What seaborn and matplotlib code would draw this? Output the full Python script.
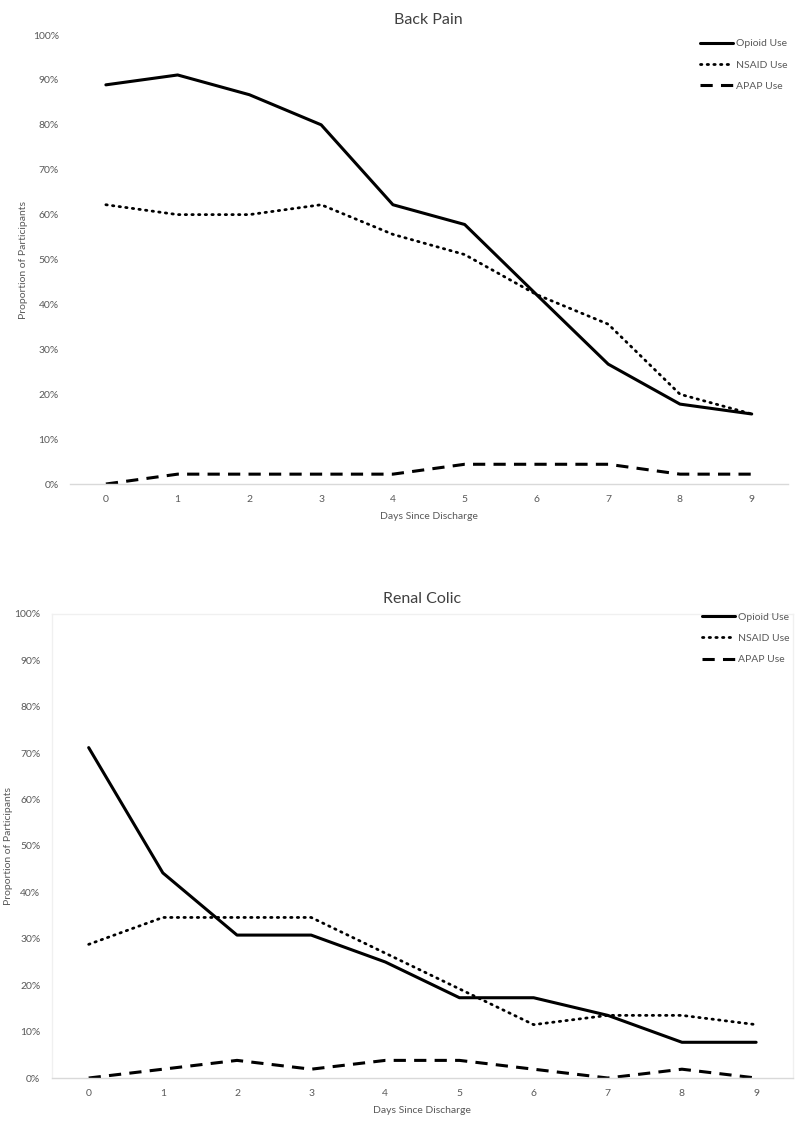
"""Medication use by days since discharge, back pain vs renal colic."""

import matplotlib
matplotlib.use("Agg")
import matplotlib.pyplot as plt
import pandas as pd
import seaborn as sns
from matplotlib.ticker import PercentFormatter

DAYS = [0, 1, 2, 3, 4, 5, 6, 7, 8, 9]

# Back pain (proportions, %)
BACK_OPIOID = [88.9, 91.1, 86.7, 80.0, 62.2, 57.8, 42.2, 26.7, 17.8, 15.6]
BACK_NSAID = [62.2, 60.0, 60.0, 62.2, 55.6, 51.1, 42.2, 35.6, 20.0, 15.6]
BACK_APAP = [0.0, 2.2, 2.2, 2.2, 2.2, 4.4, 4.4, 4.4, 2.2, 2.2]

# Renal colic (proportions, %)
RENAL_OPIOID = [71.2, 44.2, 30.8, 30.8, 25.0, 17.3, 17.3, 13.5, 7.7, 7.7]
RENAL_NSAID = [28.8, 34.6, 34.6, 34.6, 26.9, 19.2, 11.5, 13.5, 13.5, 11.5]
RENAL_APAP = [0.0, 1.9, 3.8, 1.9, 3.8, 3.8, 1.9, 0.0, 1.9, 0.0]

SERIES = ["Opioid Use", "NSAID Use", "APAP Use"]
TEXT_GREY = "#595959"
AXIS_GREY = "#d9d9d9"

sns.set_theme(style="white")
plt.rcParams["font.family"] = ["Lato", "DejaVu Sans"]


def draw_panel(ax, title, opioid, nsaid, apap, boxed, ylabel_x, legend_anchor):
    df = pd.DataFrame({"day": DAYS, SERIES[0]: opioid, SERIES[1]: nsaid, SERIES[2]: apap})
    sns.lineplot(data=df, x="day", y=SERIES[0], ax=ax, color="black", lw=2.2,
                 label=SERIES[0])
    sns.lineplot(data=df, x="day", y=SERIES[1], ax=ax, color="black", lw=2.0,
                 linestyle=(0, (0.5, 1.9)), dash_capstyle="round", label=SERIES[1])
    sns.lineplot(data=df, x="day", y=SERIES[2], ax=ax, color="black", lw=2.2,
                 linestyle=(0, (4.0, 2.7)), label=SERIES[2])

    ax.set_xlim(-0.5, 9.5)
    ax.set_ylim(0, 100)
    ax.set_xticks(DAYS)
    ax.set_yticks(range(0, 101, 10))
    ax.yaxis.set_major_formatter(PercentFormatter(decimals=0))
    ax.tick_params(axis="both", labelsize=7.5, colors=TEXT_GREY, length=0, pad=8)
    ax.set_xlabel("Days Since Discharge", fontsize=7.5, color=TEXT_GREY, labelpad=6)
    ax.set_ylabel("Proportion of Participants", fontsize=7.5, color=TEXT_GREY)
    ax.yaxis.set_label_coords(ylabel_x, 0.5)
    ax.set_title(title, fontsize=11.5, color="#404040", pad=8)

    for side, spine in ax.spines.items():
        if side == "bottom":
            spine.set_visible(True)
            spine.set_color(AXIS_GREY)
            spine.set_linewidth(1)
        elif boxed:
            spine.set_visible(True)
            spine.set_color("#f0f0f0")
            spine.set_linewidth(1)
        else:
            spine.set_visible(False)

    leg = ax.legend(loc="upper right", bbox_to_anchor=legend_anchor, frameon=False,
                    fontsize=7.5, handlelength=3.2, handletextpad=0.2,
                    labelspacing=1.15, borderaxespad=0.0)
    for text in leg.get_texts():
        text.set_color(TEXT_GREY)


fig = plt.figure(figsize=(8, 11.22), dpi=100)
ax_top = fig.add_axes([0.0875, 0.5686, 0.897, 0.4002])
ax_bot = fig.add_axes([0.0645, 0.0392, 0.927, 0.4136])

draw_panel(ax_top, "Back Pain", BACK_OPIOID, BACK_NSAID, BACK_APAP,
           boxed=False, ylabel_x=-0.0585, legend_anchor=(1.005, 1.0))
draw_panel(ax_bot, "Renal Colic", RENAL_OPIOID, RENAL_NSAID, RENAL_APAP,
           boxed=True, ylabel_x=-0.052, legend_anchor=(1.0, 1.012))

fig.savefig("out.png", dpi=100, facecolor="white")
